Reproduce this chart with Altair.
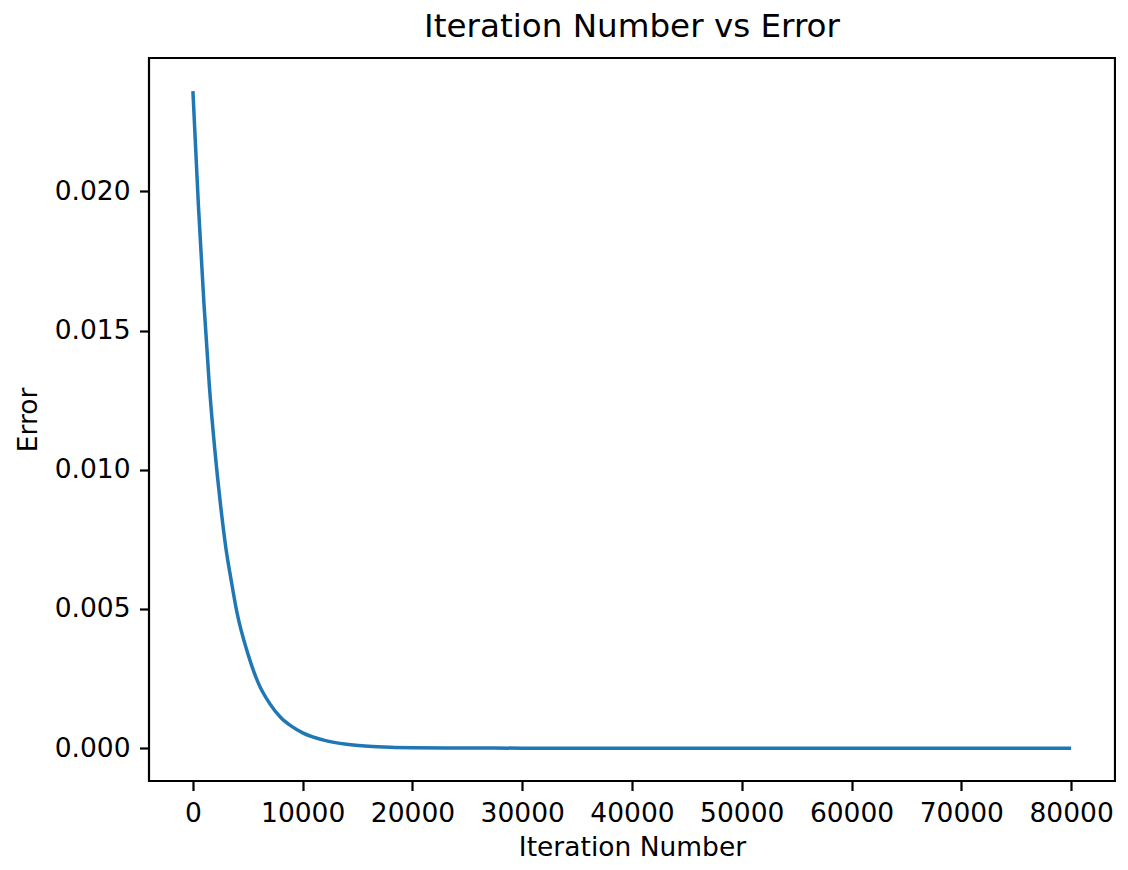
import altair as alt
import pandas as pd

iterations = [0, 500, 1000, 1500, 2000, 2500, 3000, 3500, 4000, 5000, 6000, 7000,
              8000, 9000, 10000, 12000, 14000, 16000, 18000, 20000, 25000, 30000,
              40000, 50000, 60000, 70000, 80000]
errors = [0.0236, 0.0195, 0.0160, 0.0130, 0.0107, 0.0088, 0.0072, 0.0060, 0.0049,
          0.0034, 0.0023, 0.0016, 0.0011, 0.00078, 0.00055, 0.00028, 0.00014,
          0.00007, 0.000035, 0.000018, 0.000003, 0.0000005, 0.0, 0.0, 0.0, 0.0, 0.0]

x_ticks = [0, 10000, 20000, 30000, 40000, 50000, 60000, 70000, 80000]
y_ticks = [0.0, 0.005, 0.010, 0.015, 0.020]

df = pd.DataFrame({"Iteration": iterations, "Error": errors})

FONT = "DejaVu Sans"
TICK_FS = 26.5

chart = (
    alt.Chart(df)
    .mark_line(color="#1f77b4", strokeWidth=3.5, interpolate="monotone", clip=True)
    .encode(
        x=alt.X(
            "Iteration:Q",
            scale=alt.Scale(domain=[-4000, 84000], nice=False, zero=False),
            axis=alt.Axis(
                values=x_ticks, format="d", title="Iteration Number",
                grid=False, domain=False, tickSize=9.5, tickWidth=2.2,
                tickColor="black", labelPadding=9.5, labelFontSize=TICK_FS,
                labelFont=FONT, labelColor="black", titleFont=FONT,
                titleFontSize=TICK_FS, titleFontWeight="normal",
                titleColor="black", titleBaseline="alphabetic", titleY=74,
                labelFlush=False,
            ),
        ),
        y=alt.Y(
            "Error:Q",
            scale=alt.Scale(domain=[-0.00118, 0.02479], nice=False, zero=False),
            axis=alt.Axis(
                values=y_ticks, format=".3f", title="Error",
                grid=False, domain=False, tickSize=9.5, tickWidth=2.2,
                tickColor="black", labelPadding=9.5, labelFontSize=TICK_FS,
                labelFont=FONT, labelColor="black", titleFont=FONT,
                titleFontSize=TICK_FS, titleFontWeight="normal",
                titleColor="black", titlePadding=12, labelFlush=False,
            ),
        ),
    )
    .properties(
        width=966,
        height=723,
        title=alt.TitleParams(
            "Iteration Number vs Error", font=FONT, fontSize=32.6,
            fontWeight="normal", color="black", anchor="middle", offset=14,
        ),
        autosize=alt.AutoSizeParams(type="none"),
        padding={"left": 141, "top": 50, "right": 1, "bottom": 81},
    )
    .configure(background="white")
    .configure_view(stroke="black", strokeWidth=2.2)
)

chart.save("out.html", embed_options={"renderer": "svg", "actions": False})
